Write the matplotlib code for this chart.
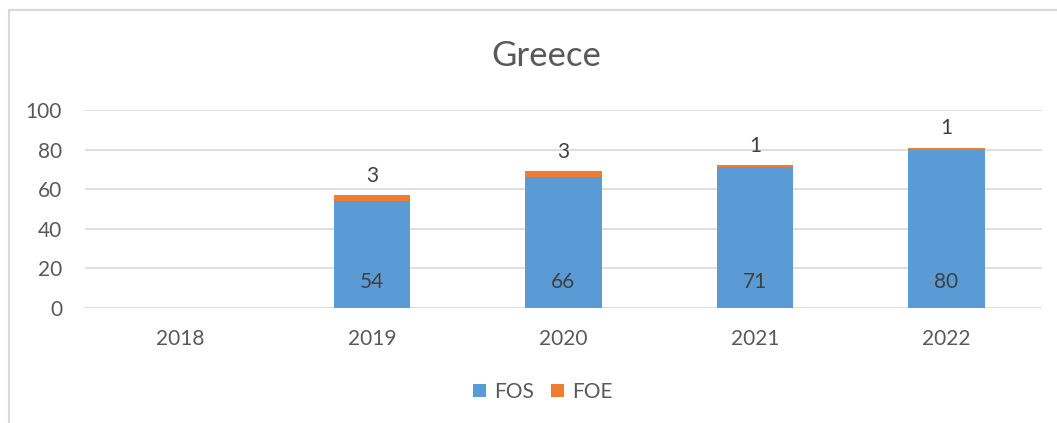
import matplotlib.pyplot as plt
import numpy as np
from matplotlib.lines import Line2D

plt.rcParams['font.family'] = ['Lato', 'DejaVu Sans']

years = ['2018', '2019', '2020', '2021', '2022']
fos = [0, 54, 66, 71, 80]
foe = [0, 3, 3, 1, 1]

blue = '#5B9BD5'
orange = '#ED7D31'
text_col = '#595959'
grid_col = '#D9D9D9'

fig = plt.figure(figsize=(10.57, 4.23), dpi=100)
ax = fig.add_axes([0.0804, 0.2719, 0.9054, 0.4681])

x = np.arange(len(years))
b1 = ax.bar(x, fos, width=0.4, color=blue, label='FOS', zorder=3)
b2 = ax.bar(x, foe, width=0.4, bottom=fos, color=orange, label='FOE', zorder=3)

# value labels: FOS inside base, FOE above the stack
for i in range(len(years)):
    if fos[i] > 0:
        ax.annotate(str(fos[i]), (x[i], 0), xytext=(0, 19), textcoords='offset points',
                    ha='center', va='center', fontsize=15, color='#404040')
    if foe[i] > 0:
        ax.annotate(str(foe[i]), (x[i], fos[i] + foe[i]), xytext=(0, 14),
                    textcoords='offset points', ha='center', va='center',
                    fontsize=15, color='#404040')

ax.set_xlim(-0.5, 4.5)
ax.set_ylim(0, 100)
ax.set_yticks(range(0, 101, 20))
ax.set_xticks(x)
ax.set_xticklabels(years)
ax.tick_params(axis='both', length=0, labelsize=15, labelcolor=text_col)
ax.tick_params(axis='y', pad=16.5)
ax.tick_params(axis='x', pad=15)
ax.grid(axis='y', color=grid_col, linewidth=1.2, zorder=0)
for s in ax.spines.values():
    s.set_visible(False)

fig.text(546 / 1057, 1 - 56 / 423, 'Greece', ha='center', va='center', fontsize=25, color=text_col)

leg = fig.legend(handles=[b1, b2], labels=['FOS', 'FOE'], loc='center',
                 bbox_to_anchor=(543 / 1057, 1 - 392 / 423), ncol=2, frameon=False,
                 fontsize=15, handlelength=0.62, handleheight=0.62, handletextpad=0.4,
                 columnspacing=0.8)
for t in leg.get_texts():
    t.set_color(text_col)

# chart border (left and top visible)
fig.add_artist(Line2D([9 / 1057, 9 / 1057], [0, 1 - 10 / 423], color=grid_col, linewidth=1.5))
fig.add_artist(Line2D([9 / 1057, 1], [1 - 10 / 423, 1 - 10 / 423], color=grid_col, linewidth=1.5))

fig.savefig('out.png', dpi=100)
